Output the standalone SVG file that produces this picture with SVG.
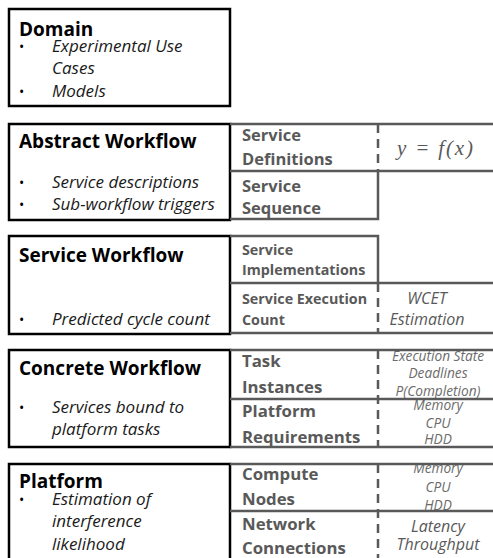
<svg xmlns="http://www.w3.org/2000/svg" width="493" height="558" viewBox="0 0 493 558">
<style>
text{font-family:"Open Sans","Liberation Sans",sans-serif}
.box{fill:#fff;stroke:#000;stroke-width:2.5}
.ln{stroke:#595959;stroke-width:2.5;fill:none}
.dash{stroke:#595959;stroke-width:2.5;fill:none;stroke-dasharray:9 6}
.title{font-size:19px;font-weight:bold;fill:#000}
.bul{font-size:17px;font-style:italic;fill:#1a1a1a}
.dot{font-size:14px;fill:#000}
.lab{font-size:16.5px;font-weight:bold;fill:#595959}
.lab2{font-size:16.8px;font-weight:bold;fill:#595959}
.sm{font-size:14.3px;font-weight:bold;fill:#595959}
.it{font-size:16px;font-style:italic;fill:#595959;text-anchor:middle}
.its{font-size:13.7px;font-style:italic;fill:#6b6b6b;text-anchor:middle}
.math{font-family:"Liberation Serif","DejaVu Serif",serif;font-size:21px;font-style:italic;fill:#595959}
</style>
<rect width="493" height="558" fill="#fff"/>

<g id="domain">
<rect class="box" x="9" y="9" width="221" height="97"/>
<text class="title" x="19" y="36">Domain</text>
<text class="dot" x="19" y="52">•</text>
<text class="bul" x="52" y="52">Experimental Use</text>
<text class="bul" x="52" y="74">Cases</text>
<text class="dot" x="19" y="97">•</text>
<text class="bul" x="52" y="97">Models</text>
</g>

<g id="abstract-workflow">
<rect class="box" x="9" y="124" width="221" height="96"/>
<text class="title" x="19" y="148">Abstract Workflow</text>
<text class="dot" x="19" y="188">•</text>
<text class="bul" x="52" y="188">Service descriptions</text>
<text class="dot" x="19" y="210">•</text>
<text class="bul" x="52" y="210">Sub-workflow triggers</text>
<text class="lab" x="242" y="141">Service</text>
<text class="lab" x="242" y="165">Definitions</text>
<text class="lab" x="242" y="192">Service</text>
<text class="lab" x="242" y="214">Sequence</text>
<text class="math" x="397" y="155" textLength="76" lengthAdjust="spacing">y = f(x)</text>
<path class="ln" d="M230 124H493M230 171H493M230 219H378V171"/>
<path class="dash" d="M378 124V171"/>
</g>

<g id="service-workflow">
<rect class="box" x="9" y="236" width="221" height="98"/>
<text class="title" x="19" y="262">Service Workflow</text>
<text class="dot" x="19" y="325">•</text>
<text class="bul" x="52" y="325">Predicted cycle count</text>
<text class="sm" x="242" y="255">Service</text>
<text class="sm" x="242" y="275">Implementations</text>
<text class="sm" x="242" y="304">Service Execution</text>
<text class="sm" x="242" y="325">Count</text>
<text class="it" x="427" y="304">WCET</text>
<text class="it" x="427" y="325">Estimation</text>
<path class="ln" d="M230 236H378V283M230 283H493M230 333H493"/>
<path class="dash" d="M378 283V333"/>
</g>

<g id="concrete-workflow">
<rect class="box" x="9" y="350" width="221" height="97"/>
<text class="title" x="19" y="375">Concrete Workflow</text>
<text class="dot" x="19" y="413">•</text>
<text class="bul" x="52" y="413">Services bound to</text>
<text class="bul" x="52" y="435">platform tasks</text>
<text class="lab2" x="242" y="367">Task</text>
<text class="lab2" x="242" y="393">Instances</text>
<text class="lab2" x="242" y="417">Platform</text>
<text class="lab2" x="242" y="443">Requirements</text>
<text class="its" x="438" y="361">Execution State</text>
<text class="its" x="438" y="378">Deadlines</text>
<text class="its" x="438" y="396">P(Completion)</text>
<text class="its" x="438" y="410">Memory</text>
<text class="its" x="438" y="428">CPU</text>
<text class="its" x="438" y="444">HDD</text>
<path class="ln" d="M230 350H493M230 399H493M230 447H493"/>
<path class="dash" d="M378 350V447"/>
</g>

<g id="platform">
<rect class="box" x="9" y="464" width="221" height="100"/>
<text class="title" x="19" y="488">Platform</text>
<text class="dot" x="19" y="505">•</text>
<text class="bul" x="52" y="505">Estimation of</text>
<text class="bul" x="52" y="527">interference</text>
<text class="bul" x="52" y="550">likelihood</text>
<text class="lab2" x="242" y="480">Compute</text>
<text class="lab2" x="242" y="505">Nodes</text>
<text class="lab2" x="242" y="530">Network</text>
<text class="lab2" x="242" y="554">Connections</text>
<text class="its" x="438" y="473">Memory</text>
<text class="its" x="438" y="492">CPU</text>
<text class="its" x="438" y="510">HDD</text>
<text class="it" x="438" y="532">Latency</text>
<text class="it" x="438" y="550">Throughput</text>
<path class="ln" d="M230 464H493M230 511H493"/>
<path class="dash" d="M378 464V560"/>
</g>
</svg>
